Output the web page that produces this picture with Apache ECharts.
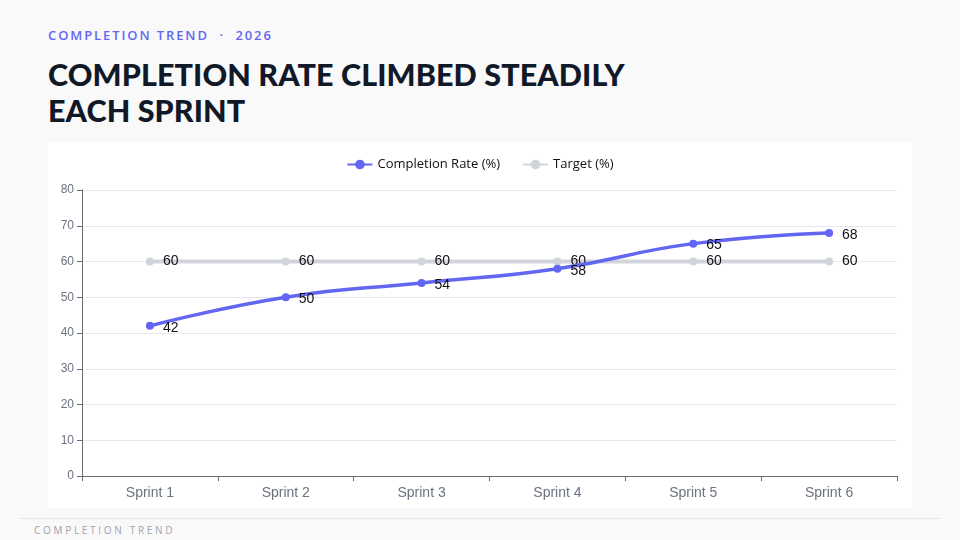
<!DOCTYPE html>
<html>
<head>
<meta charset="utf-8">
<script src="https://cdn.jsdelivr.net/npm/echarts@6/dist/echarts.min.js"></script>
<style>
  body { margin: 0; width: 960px; height: 540px; background: #f9f9fa; font-family: "Open Sans", sans-serif; position: relative; overflow: hidden; }
  .kicker { position: absolute; left: 48px; top: 26px; font-size: 13px; letter-spacing: 1.9px; color: #6366f1; font-weight: 600; }
  .title { position: absolute; left: 48px; top: 56px; font-family: "Lato", sans-serif; font-weight: 900; font-size: 30.5px; letter-spacing: 0.1px; line-height: 36px; color: #111827; }
  #chart { position: absolute; left: 48px; top: 142px; width: 864px; height: 366px; background: #ffffff; }
  .rule { position: absolute; left: 20px; right: 20px; top: 518px; height: 1px; background: #e5e7eb; }
  .footer { position: absolute; left: 34px; top: 523px; font-size: 10px; letter-spacing: 2.7px; color: #9ca3af; }
</style>
</head>
<body>
<div class="kicker">COMPLETION TREND &nbsp;·&nbsp; 2026</div>
<div class="title">COMPLETION RATE CLIMBED STEADILY<br>EACH SPRINT</div>
<div id="chart"></div>
<div class="rule"></div>
<div class="footer">COMPLETION TREND</div>
<script>
// Datos del gráfico
var sprints = ['Sprint 1', 'Sprint 2', 'Sprint 3', 'Sprint 4', 'Sprint 5', 'Sprint 6'];
var completionRate = [42, 50, 54, 58, 65, 68];
var target = [60, 60, 60, 60, 60, 60];

var myChart = echarts.init(document.getElementById('chart'));

var option = {
    animation: false,
    legend: {
        top: 11,
        itemWidth: 25,
        itemHeight: 12,
        itemGap: 22,
        textStyle: { fontFamily: 'Open Sans', fontSize: 13, color: '#111' },
        data: ['Completion Rate (%)', 'Target (%)']
    },
    grid: { left: 34, right: 15, top: 48, bottom: 32 },
    xAxis: {
        type: 'category',
        data: sprints,
        axisLine: { lineStyle: { color: '#6b6b6b' } },
        axisTick: { show: true, lineStyle: { color: '#6b6b6b' } },
        axisLabel: { color: '#6b7280', fontSize: 14, fontFamily: 'Liberation Sans', margin: 10 }
    },
    yAxis: {
        type: 'value',
        min: 0,
        max: 80,
        interval: 10,
        axisLine: { show: true, lineStyle: { color: '#6b6b6b' } },
        axisTick: { show: true, lineStyle: { color: '#6b6b6b' } },
        axisLabel: { color: '#6b7280', fontSize: 12, fontFamily: 'Liberation Sans' },
        splitLine: { lineStyle: { color: '#e5e7eb' } }
    },
    series: [
        {
            name: 'Completion Rate (%)',
            type: 'line',
            smooth: true,
            data: completionRate,
            symbol: 'circle',
            symbolSize: 8,
            itemStyle: { color: '#6366f1' },
            lineStyle: { color: '#6366f1', width: 3.5 },
            label: { show: true, position: 'right', distance: 9, color: '#111', fontSize: 14, fontFamily: 'Liberation Sans', offset: [0, 2] },
            z: 3
        },
        {
            name: 'Target (%)',
            type: 'line',
            data: target,
            symbol: 'circle',
            symbolSize: 8,
            itemStyle: { color: '#d1d5db' },
            lineStyle: { color: '#d1d5db', width: 4 },
            label: { show: true, position: 'right', distance: 9, color: '#111', fontSize: 14, fontFamily: 'Liberation Sans' },
            z: 2
        }
    ]
};

myChart.setOption(option);
</script>
</body>
</html>
